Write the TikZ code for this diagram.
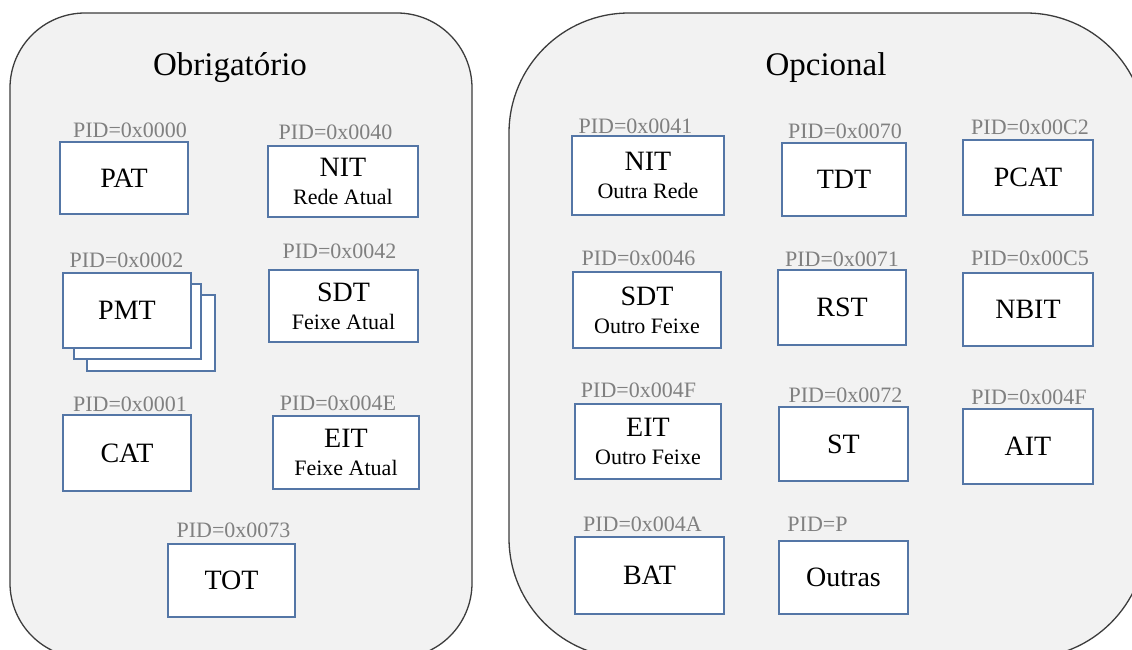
\documentclass[tikz,border=0pt]{standalone}
\usepackage{fontspec}
\setmainfont{Liberation Serif}
\definecolor{panelfill}{HTML}{F2F2F2}
\definecolor{paneledge}{HTML}{3C3C3C}
\definecolor{boxedge}{HTML}{5476A6}
\definecolor{pidgray}{HTML}{808080}
\newcommand{\mainsz}{\fontsize{28}{28}\selectfont}
\newcommand{\subsz}{\fontsize{22}{28}\selectfont}
\tikzset{
  panel/.style={draw=paneledge, fill=panelfill, line width=1.3pt},
  tbl/.style={draw=boxedge, fill=white, line width=1.2pt, inner sep=0pt,
    align=center, font=\mainsz},
  pid/.style={anchor=base, text=pidgray, inner sep=0pt, font=\fontsize{22}{22}\selectfont},
  title/.style={anchor=base, inner sep=0pt, font=\fontsize{33}{33}\selectfont},
}
\begin{document}
\begin{tikzpicture}[x=1pt, y=-1pt]
\useasboundingbox (0,0) rectangle (1132,649);
\clip (0,0) rectangle (1132,649);

% the two groups
\draw[panel, rounded corners=75pt] (10,13) rectangle (472,658);
\draw[panel, rounded corners=120pt] (509,13) rectangle (1146,658);
\node[title] (obrig) at (230,75) {Obrigatório};
\node[title] (opc) at (826,75) {Opcional};

% mandatory tables
\node[tbl, minimum width=128pt, minimum height=72pt] (pat) at (124,178) {PAT};
\node[pid] (patpid) at (130,137) {PID=0x0000};

\node[tbl, minimum width=150pt, minimum height=71pt] (nit) at (343,181.5) {NIT\\\subsz Rede Atual};
\node[pid] (nitpid) at (335.5,139) {PID=0x0040};

\node[tbl, minimum width=128pt, minimum height=76pt] (pmtc) at (151,333) {};
\node[tbl, minimum width=127pt, minimum height=75pt] (pmtb) at (137.5,321.5) {};
\node[tbl, minimum width=128pt, minimum height=75pt] (pmt) at (127,310.5) {PMT};
\node[pid] (pmtpid) at (126.5,267) {PID=0x0002};

\node[tbl, minimum width=149pt, minimum height=72pt] (sdt) at (343.5,306) {SDT\\\subsz Feixe Atual};
\node[pid] (sdtpid) at (339.5,258) {PID=0x0042};

\node[tbl, minimum width=128pt, minimum height=76pt] (cat) at (127,453) {CAT};
\node[pid] (catpid) at (130,411) {PID=0x0001};

\node[tbl, minimum width=146pt, minimum height=73pt] (eit) at (346,452.5) {EIT\\\subsz Feixe Atual};
\node[pid] (eitpid) at (338,410) {PID=0x004E};

\node[tbl, minimum width=127pt, minimum height=73pt] (tot) at (231.5,580.5) {TOT};
\node[pid] (totpid) at (233.5,537) {PID=0x0073};

% optional tables
\node[tbl, minimum width=152pt, minimum height=79pt] (nito) at (648,175.5) {NIT\\\subsz Outra Rede};
\node[pid] (nitopid) at (635.5,133) {PID=0x0041};

\node[tbl, minimum width=124pt, minimum height=73pt] (tdt) at (844,179.5) {TDT};
\node[pid] (tdtpid) at (845,138) {PID=0x0070};

\node[tbl, minimum width=130pt, minimum height=75pt] (pcat) at (1028,177.5) {PCAT};
\node[pid] (pcatpid) at (1030,134) {PID=0x00C2};

\node[tbl, minimum width=148pt, minimum height=76pt] (sdto) at (647,310) {SDT\\\subsz Outro Feixe};
\node[pid] (sdtopid) at (638.5,265) {PID=0x0046};

\node[tbl, minimum width=128pt, minimum height=75pt] (rst) at (842,307.5) {RST};
\node[pid] (rstpid) at (842,266) {PID=0x0071};

\node[tbl, minimum width=130pt, minimum height=73pt] (nbit) at (1028,309.5) {NBIT};
\node[pid] (nbitpid) at (1030,265) {PID=0x00C5};

\node[tbl, minimum width=146pt, minimum height=75pt] (eito) at (648,441.5) {EIT\\\subsz Outro Feixe};
\node[pid] (eitopid) at (638.5,397) {PID=0x004F};

\node[tbl, minimum width=129pt, minimum height=74pt] (st) at (843.5,444) {ST};
\node[pid] (stpid) at (845.5,402) {PID=0x0072};

\node[tbl, minimum width=130pt, minimum height=75pt] (ait) at (1028,446.5) {AIT};
\node[pid] (aitpid) at (1029,404) {PID=0x004F};

\node[tbl, minimum width=149pt, minimum height=77pt] (bat) at (649.5,575.5) {BAT};
\node[pid] (batpid) at (642.5,531) {PID=0x004A};

\node[tbl, minimum width=129pt, minimum height=73pt] (outras) at (843.5,577.5) {Outras};
\node[pid] (outraspid) at (817.5,531) {PID=P};
\end{tikzpicture}
\end{document}
